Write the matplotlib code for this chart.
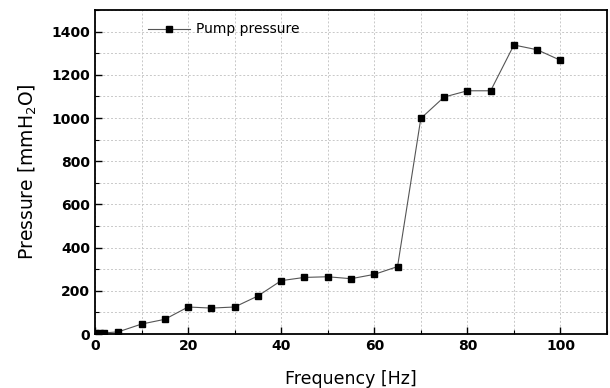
import matplotlib
matplotlib.use("Agg")
import matplotlib.pyplot as plt
from matplotlib.ticker import MultipleLocator

freq = [0, 1, 2, 5, 10, 15, 20, 25, 30, 35, 40, 45, 50, 55, 60, 65, 70, 75, 80, 85, 90, 95, 100]
pressure = [5, 5, 5, 10, 46, 68, 125, 120, 125, 176, 247, 262, 265, 256, 276, 312, 998, 1097, 1126, 1126, 1338, 1316, 1267]
series_label = "Pump pressure"

fig = plt.figure(figsize=(6.10, 3.88), dpi=100)
ax = fig.add_axes([95/610, 1-334/388, 512/610, 324/388])

ax.plot(freq, pressure, color="#555555", lw=0.8, marker="s", ms=5,
        mfc="black", mec="black", label=series_label, zorder=3)

ax.set_xlim(0, 110)
ax.set_ylim(0, 1500)
ax.xaxis.set_major_locator(MultipleLocator(20))
ax.xaxis.set_minor_locator(MultipleLocator(10))
ax.yaxis.set_major_locator(MultipleLocator(200))
ax.yaxis.set_minor_locator(MultipleLocator(100))
ax.grid(True, which="both", color="#c8c8c8", ls=(0, (2, 2)), lw=0.7)
ax.set_axisbelow(True)
ax.tick_params(which="both", direction="in", top=False, right=False)
ax.tick_params(which="major", length=5, width=1.0, labelsize=10)
ax.tick_params(which="minor", length=3, width=0.8)
for lab in ax.get_xticklabels() + ax.get_yticklabels():
    lab.set_fontweight("bold")
for s in ax.spines.values():
    s.set_linewidth(1.3)

ax.set_xlabel("Frequency [Hz]", fontsize=12.5, labelpad=12)
ax.set_ylabel("Pressure [mmH$_2$O]", fontsize=13.5, labelpad=9)

ax.legend(loc="upper left", bbox_to_anchor=(0.08, 1.0), frameon=False,
          fontsize=10, handlelength=3.0, handletextpad=0.4)

fig.savefig("out.png", dpi=100)
